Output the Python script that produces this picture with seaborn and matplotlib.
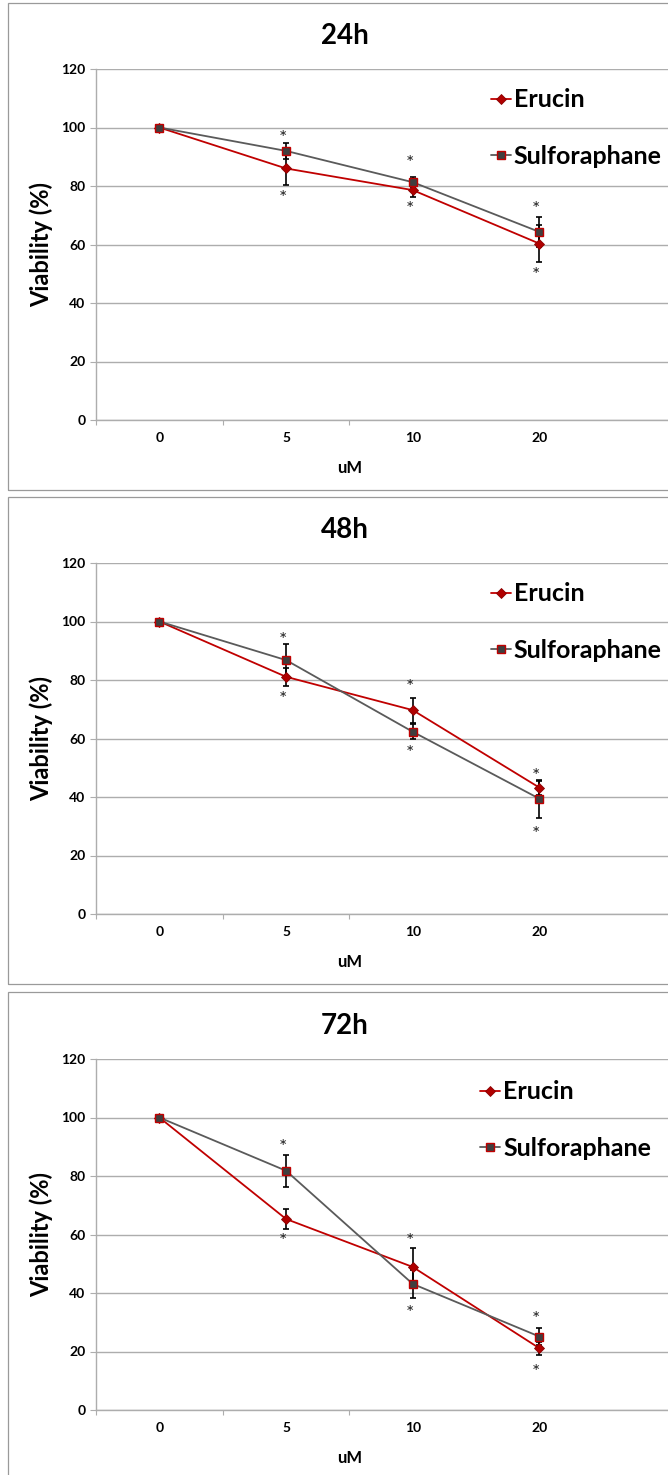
import numpy as np
import pandas as pd
import matplotlib
matplotlib.use("Agg")
import matplotlib.pyplot as plt
from matplotlib.patches import Rectangle
import seaborn as sns

# ---- data -------------------------------------------------------------
doses = ["0", "5", "10", "20"]
timepoints = ["24h", "48h", "72h"]

erucin_24 = [100, 86.0, 78.6, 60.3]
erucin_24_sd = [0, 5.8, 2.5, 6.2]
sulforaphane_24 = [100, 92.0, 81.3, 64.3]
sulforaphane_24_sd = [0, 2.7, 1.8, 5.0]
star_above_24 = [98.1, 89.4, 73.7]
star_below_24 = [77.6, 73.7, 51.3]

erucin_48 = [100, 81.1, 69.7, 43.2]
erucin_48_sd = [0, 3.0, 4.3, 2.4]
sulforaphane_48 = [100, 86.8, 62.3, 39.4]
sulforaphane_48_sd = [0, 5.4, 2.5, 6.5]
star_above_48 = [95.4, 79.2, 48.9]
star_below_48 = [75.1, 56.6, 29.0]

erucin_72 = [100, 65.3, 48.9, 21.1]
erucin_72_sd = [0, 3.4, 6.5, 2.3]
sulforaphane_72 = [100, 81.8, 43.1, 25.1]
sulforaphane_72_sd = [0, 5.4, 4.9, 3.0]
star_above_72 = [91.7, 59.5, 32.8]
star_below_72 = [59.5, 34.8, 14.6]

# ---- style ------------------------------------------------------------
sns.set_theme(style="white")
FONT = ["Lato", "DejaVu Sans"]
plt.rcParams["font.family"] = FONT
plt.rcParams["font.weight"] = "bold"
for key in ("text.color", "axes.labelcolor", "xtick.color", "ytick.color"):
    plt.rcParams[key] = "black"

RED = "#C00000"
ERUCIN_FACE = "#B00000"
ERUCIN_EDGE = "#8B0000"
GREY_LINE = "#5A5A5A"
SULF_FACE = "#3F3F3F"
GRID = "#ADADAD"
FRAME = "#9A9A9A"

W, H = 668, 1475
fig = plt.figure(figsize=(W / 100, H / 100), dpi=100)


def fx(px):
    return px / W


def fy(py):
    return 1 - py / H


panels = [
    dict(title="24h", eru=erucin_24, eru_sd=erucin_24_sd,
         sul=sulforaphane_24, sul_sd=sulforaphane_24_sd,
         up=star_above_24, down=star_below_24),
    dict(title="48h", eru=erucin_48, eru_sd=erucin_48_sd,
         sul=sulforaphane_48, sul_sd=sulforaphane_48_sd,
         up=star_above_48, down=star_below_48),
    dict(title="72h", eru=erucin_72, eru_sd=erucin_72_sd,
         sul=sulforaphane_72, sul_sd=sulforaphane_72_sd,
         up=star_above_72, down=star_below_72),
]

# layout in pixels: y of the zero line, panel frame top/bottom, legend anchor
zero_px = [420, 914, 1410]
frames = [(3, 490), (497, 984), (992, 1485)]
legend_anchor = [(0.690, 0.945), (0.690, 0.945), (0.672, 0.939)]
PLOT_H = 351
LEFT = 96
CAT_W = 126.7
STAR_DROP = 1.8  # asterisk glyph sits high in its box; nudge down (data units)

for i, p in enumerate(panels):
    # chart-area frame
    top, bot = frames[i]
    fig.patches.append(Rectangle((fx(8), fy(bot)), fx(700) - fx(8), (bot - top) / H,
                                 transform=fig.transFigure, fill=False,
                                 edgecolor=FRAME, linewidth=0.9, zorder=0))

    ax = fig.add_axes([fx(LEFT), fy(zero_px[i]), fx(W) - fx(LEFT), PLOT_H / H])
    ax.set_facecolor("none")
    x = np.arange(len(doses))

    eru = np.array(p["eru"])
    sul = np.array(p["sul"])
    eru_sd = np.array(p["eru_sd"])
    sul_sd = np.array(p["sul_sd"])

    me = eru_sd > 0
    ms = sul_sd > 0
    ax.errorbar(x[me], eru[me], yerr=eru_sd[me], fmt="none", ecolor="black",
                elinewidth=1.2, capsize=2.2, capthick=1.2, zorder=2)
    ax.errorbar(x[ms], sul[ms], yerr=sul_sd[ms], fmt="none", ecolor="black",
                elinewidth=1.2, capsize=2.2, capthick=1.2, zorder=2)

    sns.lineplot(x=x, y=eru, ax=ax, color=RED, linewidth=1.3, marker="D",
                 markersize=5, markerfacecolor=ERUCIN_FACE,
                 markeredgecolor=ERUCIN_EDGE, markeredgewidth=0.6,
                 label="Erucin", errorbar=None, zorder=3)
    sns.lineplot(x=x, y=sul, ax=ax, color=GREY_LINE, linewidth=1.3, marker="s",
                 markersize=6, markerfacecolor=SULF_FACE,
                 markeredgecolor=RED, markeredgewidth=1.0,
                 label="Sulforaphane", errorbar=None, zorder=4)

    # significance asterisks at doses 5, 10, 20
    for j, (ya, yb) in enumerate(zip(p["up"], p["down"])):
        for yy in (ya, yb):
            ax.text(x[j + 1] - 0.025, yy - STAR_DROP, "*", ha="center",
                    va="center", fontsize=14, fontweight="normal",
                    color="#222222", family=FONT, zorder=5)

    # axes
    ax.set_xlim(-0.5, -0.5 + (W - LEFT) / CAT_W)
    ax.set_ylim(0, 120)
    ax.set_yticks(np.arange(0, 121, 20))
    ax.set_xticks(x)
    ax.set_xticklabels(doses)
    ax.set_xticks(x[:-1] - 0.5, minor=True)
    ax.yaxis.grid(True, color=GRID, linewidth=1.0)
    ax.xaxis.grid(False)
    ax.set_axisbelow(True)
    for s in ("top", "right"):
        ax.spines[s].set_visible(False)
    for s in ("left", "bottom"):
        ax.spines[s].set_color(GRID)
        ax.spines[s].set_linewidth(1.0)

    ax.tick_params(axis="x", which="major", bottom=False, length=0, pad=8.5,
                   labelsize=10)
    ax.tick_params(axis="x", which="minor", bottom=True, length=3.5, width=0.8,
                   color=GRID, direction="out")
    ax.tick_params(axis="y", left=True, length=4, width=0.8, color=GRID,
                   direction="out", pad=3.5, labelsize=10)
    for lab in ax.get_xticklabels() + ax.get_yticklabels():
        lab.set_fontweight("bold")
        lab.set_color("black")

    ax.set_xlabel("uM", fontsize=12, fontweight="bold", color="black")
    ax.xaxis.set_label_coords((350 - LEFT) / (W - LEFT), -48 / PLOT_H)
    ax.xaxis.label.set_va("center")
    ax.set_ylabel("Viability (%)", fontsize=17, fontweight="bold", color="black")
    ax.yaxis.set_label_coords((41 - LEFT) / (W - LEFT), 0.5)
    ax.yaxis.label.set_va("center")

    ax.text((345 - LEFT) / (W - LEFT), 1 + 33 / PLOT_H, p["title"],
            transform=ax.transAxes, ha="center", va="center",
            fontsize=20, fontweight="bold", color="black")

    leg = ax.legend(loc="upper left", bbox_to_anchor=legend_anchor[i],
                    frameon=False,
                    prop=dict(family=FONT, weight="bold", size=18),
                    handlelength=0.8, handletextpad=0.12, labelspacing=1.35,
                    borderpad=0, borderaxespad=0, numpoints=1)
    for t in leg.get_texts():
        t.set_color("black")

fig.savefig("out.png", dpi=100, facecolor="white")
